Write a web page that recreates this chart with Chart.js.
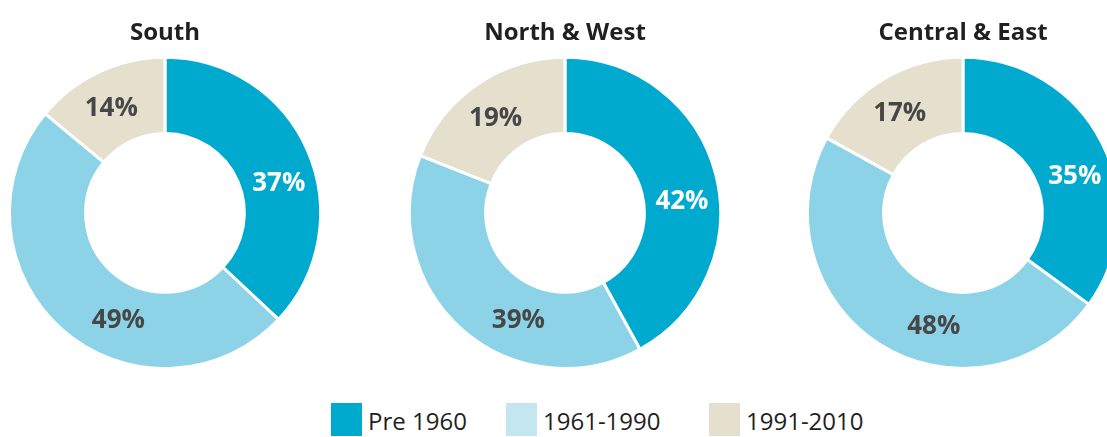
<!DOCTYPE html>
<html>
<head>
<meta charset="utf-8">
<script src="https://cdn.jsdelivr.net/npm/chart.js@4.4.1/dist/chart.umd.min.js"></script>
<style>
    html, body { margin: 0; padding: 0; background: #fff; overflow: hidden; width: 1107px; height: 437px; }
    .chartbox { position: absolute; top: 0; width: 330px; height: 372px; }
    .legend { position: absolute; top: 403px; left: 0; font-family: "Open Sans", sans-serif; font-size: 24px; color: #231f20; }
    .legend span.sw { position: absolute; top: 0; width: 31px; height: 33px; }
    .legend span.tx { position: absolute; top: 1px; white-space: nowrap; line-height: 33px; }
</style>
</head>
<body>
<div class="chartbox" style="left:0px"><canvas id="Chart1"></canvas></div>
<div class="chartbox" style="left:400px"><canvas id="Chart2"></canvas></div>
<div class="chartbox" style="left:798px"><canvas id="Chart3"></canvas></div>
<div class="legend" id="legend"></div>
<script>
var periods = ["Pre 1960", "1961-1990", "1991-2010"];
var regions = ["South", "North & West", "Central & East"];
var southData = [37, 49, 14];
var northWestData = [42, 39, 19];
var centralEastData = [35, 48, 17];

var sliceColors = ["#00aacf", "#8dd3e8", "#e5e0cd"];
var legendColors = ["#00aacf", "#c4e6f1", "#e5e0cd"];
var labelColors = ["#ffffff", "#474747", "#474747"];
// small turn (degrees) of each label away from the slice middle, like the original layout
var labelTurn = [9, -18, -2];

// percent labels in the ring
var pctLabels = {
    id: 'pctLabels',
    afterDatasetsDraw: function (chart) {
        var ctx = chart.ctx;
        var meta = chart.getDatasetMeta(0);
        ctx.save();
        ctx.font = 'bold 26px "Open Sans"';
        ctx.textAlign = 'center';
        ctx.textBaseline = 'middle';
        meta.data.forEach(function (arc, i) {
            var a = (arc.startAngle + arc.endAngle) / 2 + labelTurn[i] * Math.PI / 180;
            var r = (arc.innerRadius + arc.outerRadius) / 2;
            ctx.fillStyle = labelColors[i];
            ctx.fillText(chart.data.datasets[0].data[i] + '%', arc.x + Math.cos(a) * r, arc.y + Math.sin(a) * r);
        });
        ctx.restore();
    }
};

function drawDonut(canvasId, title, values) {
    var ctx = document.getElementById(canvasId);
    return new Chart(ctx, {
        type: 'doughnut',
        data: {
            labels: periods,
            datasets: [{
                data: values,
                backgroundColor: sliceColors,
                borderColor: '#ffffff',
                borderWidth: 3,
            }],
        },
        options: {
            responsive: true,
            maintainAspectRatio: false,
            animation: false,
            cutout: '51%',
            layout: { padding: { top: 0, bottom: 2 } },
            plugins: {
                legend: { display: false },
                tooltip: { enabled: false },
                title: {
                    display: true,
                    text: title,
                    color: '#231f20',
                    font: { family: 'Open Sans', size: 24, weight: 'bold' },
                    padding: { top: 19, bottom: 8 },
                },
            },
        },
        plugins: [pctLabels],
    });
}

drawDonut("Chart1", regions[0], southData);
drawDonut("Chart2", regions[1], northWestData);
drawDonut("Chart3", regions[2], centralEastData);

var legendX = [331, 506, 709];
var legend = document.getElementById("legend");
periods.forEach(function (p, i) {
    legend.innerHTML += '<span class="sw" style="left:' + legendX[i] + 'px;background:' + legendColors[i] + '"></span>' +
        '<span class="tx" style="left:' + (legendX[i] + 37) + 'px">' + p + '</span>';
});
</script>
</body>
</html>
